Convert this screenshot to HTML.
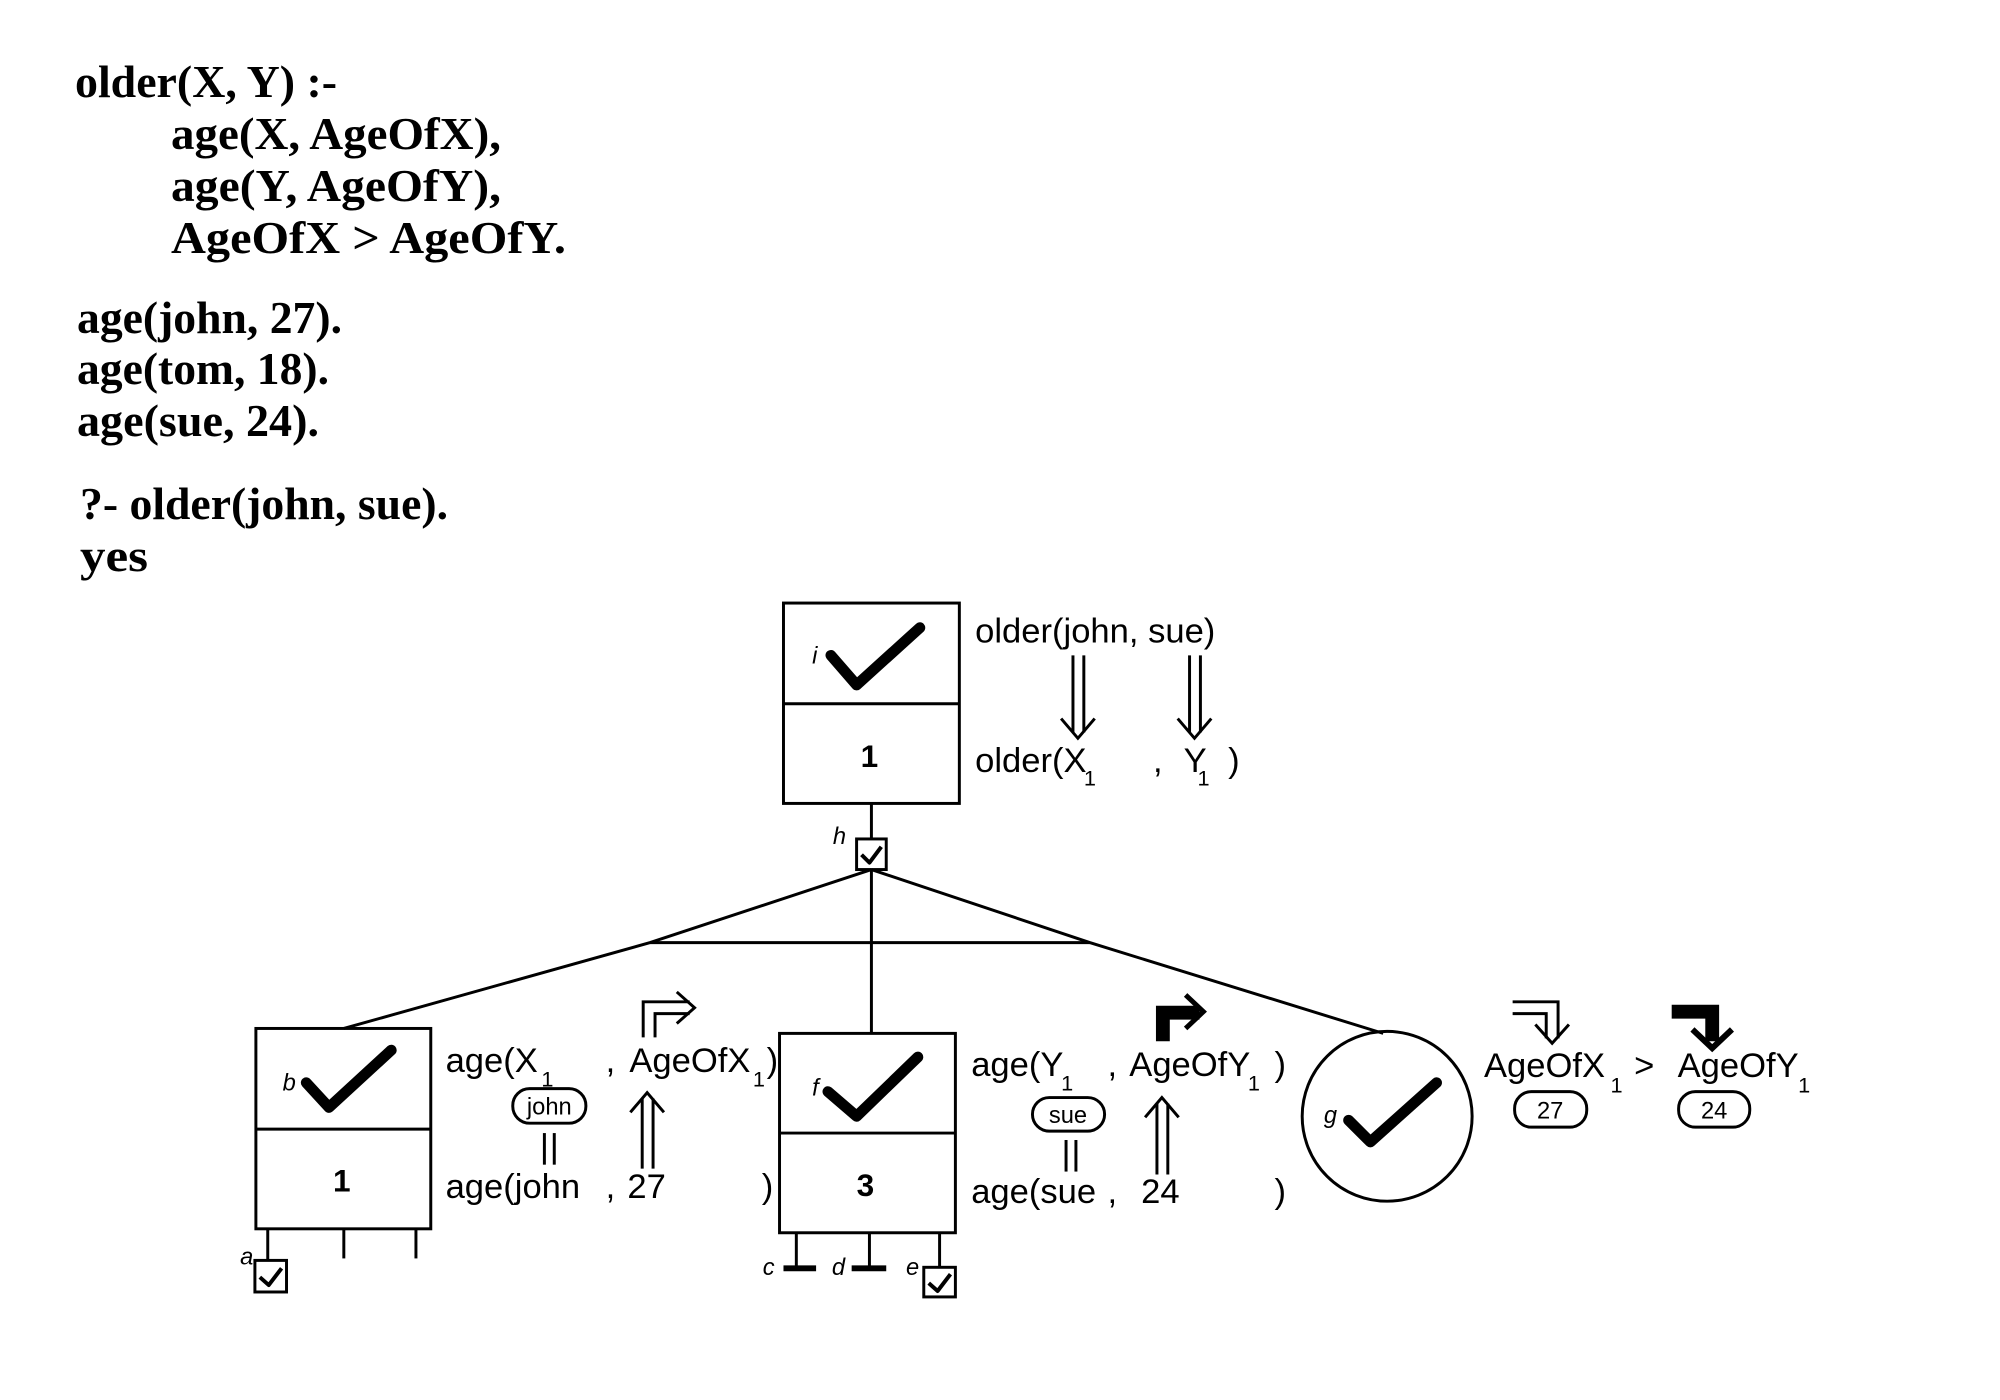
<!DOCTYPE html>
<html><head><meta charset="utf-8"><style>
html,body{margin:0;padding:0;background:#fff;}
svg{display:block}
.t{font-family:"Liberation Serif",serif;font-weight:bold;font-size:46px;fill:#000}
.s{font-family:"Liberation Sans",sans-serif;font-size:35px;fill:#000}
.sub{font-family:"Liberation Sans",sans-serif;font-size:22px;fill:#000}
.p{font-family:"Liberation Sans",sans-serif;font-size:24px;fill:#000}
.n{font-family:"Liberation Sans",sans-serif;font-weight:bold;font-size:32px;fill:#000}
.l{font-family:"Liberation Sans",sans-serif;font-style:italic;font-size:24px;fill:#000}
</style></head><body>
<svg width="2000" height="1400" viewBox="0 0 2000 1400" xmlns="http://www.w3.org/2000/svg">
<g class="t">
<text x="75" y="97" textLength="262" lengthAdjust="spacingAndGlyphs">older(X, Y) :-</text>
<text x="171" y="149" textLength="330" lengthAdjust="spacingAndGlyphs">age(X, AgeOfX),</text>
<text x="171" y="201" textLength="330" lengthAdjust="spacingAndGlyphs">age(Y, AgeOfY),</text>
<text x="171" y="253" textLength="395" lengthAdjust="spacingAndGlyphs">AgeOfX &gt; AgeOfY.</text>
<text x="77" y="333" textLength="265" lengthAdjust="spacingAndGlyphs">age(john, 27).</text>
<text x="77" y="384" textLength="252" lengthAdjust="spacingAndGlyphs">age(tom, 18).</text>
<text x="77" y="436" textLength="242" lengthAdjust="spacingAndGlyphs">age(sue, 24).</text>
<text x="80" y="519" textLength="368" lengthAdjust="spacingAndGlyphs">?-  older(john, sue).</text>
<text x="80" y="571" textLength="68" lengthAdjust="spacingAndGlyphs">yes</text>
</g>

<g transform="scale(0.988,0.987)">
<g fill="none" stroke="#000" stroke-width="3">
<rect x="793" y="611" width="178" height="203"/>
<line x1="793" y1="713" x2="971" y2="713"/>
<line x1="882" y1="814" x2="882" y2="850"/>
<rect x="867" y="850" width="30" height="31"/>
<polyline points="882,881 658,955 348,1042"/>
<polyline points="882,881 1103,955 1400,1047"/>
<line x1="658" y1="955" x2="1103" y2="955"/>
<line x1="882" y1="881" x2="882" y2="1047"/>
<rect x="259" y="1042" width="177" height="203"/>
<line x1="259" y1="1144" x2="436" y2="1144"/>
<line x1="271" y1="1245" x2="271" y2="1277"/>
<line x1="348" y1="1245" x2="348" y2="1275"/>
<line x1="421" y1="1245" x2="421" y2="1275"/>
<rect x="258" y="1277" width="32" height="32"/>
<rect x="789" y="1047" width="178" height="202"/>
<line x1="789" y1="1148" x2="967" y2="1148"/>
<line x1="806" y1="1249" x2="806" y2="1284"/>
<line x1="880" y1="1249" x2="880" y2="1284"/>
<line x1="951" y1="1249" x2="951" y2="1284"/>
<rect x="935" y="1284" width="32" height="30"/>
<ellipse cx="1404" cy="1131" rx="86" ry="86"/>
</g>
<g stroke="#000" stroke-width="6">
<line x1="793" y1="1285" x2="826" y2="1285"/>
<line x1="862" y1="1285" x2="897" y2="1285"/>
</g>

<g fill="none" stroke="#000" stroke-width="11" stroke-linecap="round" stroke-linejoin="round">
<polyline points="841,664 867,694 931,636"/>
<polyline points="310,1097 333,1122 396,1064"/>
<polyline points="838,1106 867,1131 929,1071"/>
<polyline points="1365,1135 1387,1157 1454,1097"/>
</g>
<g fill="none" stroke="#000" stroke-width="4" stroke-linejoin="round">
<polyline points="872,866 880,874 892,858"/>
<polyline points="263,1294 272,1302 285,1285"/>
<polyline points="940,1300 949,1308 962,1291"/>
</g>

<g class="l">
<text x="822" y="672">i</text>
<text x="843" y="855">h</text>
<text x="286" y="1105">b</text>
<text x="243" y="1281">a</text>
<text x="822" y="1110">f</text>
<text x="772" y="1292">c</text>
<text x="842" y="1292">d</text>
<text x="917" y="1292">e</text>
<text x="1340" y="1138">g</text>
</g>
<g class="n">
<text x="880" y="777" text-anchor="middle">1</text>
<text x="346" y="1207" text-anchor="middle">1</text>
<text x="876" y="1212" text-anchor="middle">3</text>
</g>

<g class="s">
<text x="987" y="651">older(john, sue)</text>
<text x="987" y="782">older(X</text>
<text x="1167" y="782">,</text>
<text x="1198" y="782">Y</text>
<text x="1243" y="782">)</text>
<text x="451" y="1086">age(X</text>
<text x="613" y="1086">,</text>
<text x="637" y="1086">AgeOfX</text>
<text x="776" y="1086">)</text>
<text x="451" y="1214">age(john</text>
<text x="613" y="1214">,</text>
<text x="635" y="1214">27</text>
<text x="771" y="1214">)</text>
<text x="983" y="1090">age(Y</text>
<text x="1121" y="1090">,</text>
<text x="1143" y="1090">AgeOfY</text>
<text x="1290" y="1090">)</text>
<text x="983" y="1219">age(sue</text>
<text x="1121" y="1219">,</text>
<text x="1155" y="1219">24</text>
<text x="1290" y="1219">)</text>
<text x="1502" y="1091">AgeOfX</text>
<text x="1654" y="1091">&gt;</text>
<text x="1698" y="1091">AgeOfY</text>
</g>
<g class="sub">
<text x="1097" y="796">1</text>
<text x="1212" y="796">1</text>
<text x="548" y="1101">1</text>
<text x="762" y="1101">1</text>
<text x="1074" y="1105">1</text>
<text x="1263" y="1105">1</text>
<text x="1630" y="1107">1</text>
<text x="1820" y="1107">1</text>
</g>

<g fill="none" stroke="#000" stroke-width="3">
<rect x="519" y="1103" width="74" height="35" rx="17"/>
<rect x="1045" y="1112" width="73" height="34" rx="17"/>
<rect x="1533" y="1106" width="73" height="36" rx="17"/>
<rect x="1699" y="1106" width="72" height="36" rx="17"/>
</g>
<g class="p" text-anchor="middle">
<text x="556" y="1129">john</text>
<text x="1081" y="1138">sue</text>
<text x="1569" y="1133">27</text>
<text x="1735" y="1133">24</text>
</g>

<g fill="none" stroke="#000" stroke-width="3">
<line x1="1086" y1="664" x2="1086" y2="742"/><line x1="1097" y1="664" x2="1097" y2="742"/>
<polyline points="1074,728 1091,748 1108,728"/>
<line x1="1204" y1="664" x2="1204" y2="742"/><line x1="1215" y1="664" x2="1215" y2="742"/>
<polyline points="1192,728 1209,748 1226,728"/>
<line x1="551" y1="1148" x2="551" y2="1180"/><line x1="561" y1="1148" x2="561" y2="1180"/>
<line x1="1079" y1="1155" x2="1079" y2="1187"/><line x1="1089" y1="1155" x2="1089" y2="1187"/>
<line x1="650" y1="1113" x2="650" y2="1184"/><line x1="661" y1="1113" x2="661" y2="1184"/>
<polyline points="638,1127 655,1107 672,1127"/>
<line x1="1171" y1="1118" x2="1171" y2="1190"/><line x1="1182" y1="1118" x2="1182" y2="1190"/>
<polyline points="1159,1132 1176,1112 1193,1132"/>
<polyline points="651,1051 651,1015 698,1015"/>
<polyline points="663,1051 663,1027 698,1027"/>
<polyline points="685,1005 703,1021 685,1037"/>
<polyline points="1531,1015 1577,1015 1577,1052"/>
<polyline points="1531,1027 1565,1027 1565,1052"/>
<polyline points="1554,1038 1571,1057 1588,1038"/>
</g>
<g fill="none" stroke="#000" stroke-linejoin="miter">
<polyline points="1177,1055 1177,1026 1214,1026" stroke-width="14"/>
<polyline points="1200,1008 1218,1025 1200,1042" stroke-width="5"/>
<polyline points="1692,1025 1733,1025 1733,1055" stroke-width="14"/>
<polyline points="1713,1043 1733,1062 1753,1043" stroke-width="6"/>
</g>
</g>
</svg>
</body></html>
